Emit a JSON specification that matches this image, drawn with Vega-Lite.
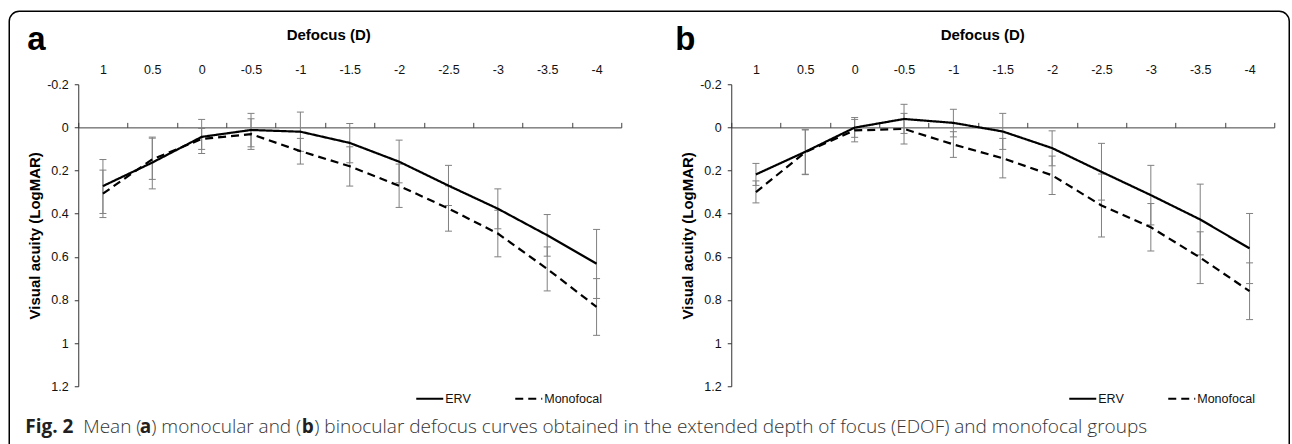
{
  "$schema": "https://vega.github.io/schema/vega-lite/v6.json",
  "background": "white",
  "padding": {"left": 8.25, "top": 10.25, "right": 0, "bottom": 0},
  "autosize": {"type": "pad"},
  "config": {
    "view": {"stroke": null},
    "font": "Liberation Sans",
    "axis": {"labelFont": "Liberation Sans", "labelFontSize": 12.5, "labelColor": "#111", "titleFont": "Liberation Sans", "titleColor": "#000", "grid": false, "domainColor": "#404040", "tickColor": "#404040", "domainWidth": 1, "tickWidth": 1},
    "legend": {"labelFont": "Liberation Sans"}
  },
  "datasets": {
    "a": [
      {"D": 1, "g": "ERV", "m": 0.272, "lo": 0.149, "hi": 0.399},
      {"D": 0.5, "g": "ERV", "m": 0.163, "lo": 0.045, "hi": 0.285},
      {"D": 0, "g": "ERV", "m": 0.044, "lo": -0.037, "hi": 0.121},
      {"D": -0.5, "g": "ERV", "m": 0.012, "lo": -0.065, "hi": 0.09},
      {"D": -1, "g": "ERV", "m": 0.02, "lo": -0.071, "hi": 0.111},
      {"D": -1.5, "g": "ERV", "m": 0.072, "lo": -0.018, "hi": 0.164},
      {"D": -2, "g": "ERV", "m": 0.159, "lo": 0.059, "hi": 0.257},
      {"D": -2.5, "g": "ERV", "m": 0.27, "lo": 0.176, "hi": 0.362},
      {"D": -3, "g": "ERV", "m": 0.377, "lo": 0.285, "hi": 0.47},
      {"D": -3.5, "g": "ERV", "m": 0.5, "lo": 0.404, "hi": 0.597},
      {"D": -4, "g": "ERV", "m": 0.632, "lo": 0.473, "hi": 0.793},
      {"D": 1, "g": "Monofocal", "m": 0.307, "lo": 0.198, "hi": 0.418},
      {"D": 0.5, "g": "Monofocal", "m": 0.148, "lo": 0.05, "hi": 0.241},
      {"D": 0, "g": "Monofocal", "m": 0.054, "lo": 0.005, "hi": 0.102},
      {"D": -0.5, "g": "Monofocal", "m": 0.031, "lo": -0.04, "hi": 0.102},
      {"D": -1, "g": "Monofocal", "m": 0.11, "lo": 0.051, "hi": 0.17},
      {"D": -1.5, "g": "Monofocal", "m": 0.18, "lo": 0.09, "hi": 0.272},
      {"D": -2, "g": "Monofocal", "m": 0.271, "lo": 0.17, "hi": 0.371},
      {"D": -2.5, "g": "Monofocal", "m": 0.376, "lo": 0.271, "hi": 0.481},
      {"D": -3, "g": "Monofocal", "m": 0.492, "lo": 0.384, "hi": 0.6},
      {"D": -3.5, "g": "Monofocal", "m": 0.656, "lo": 0.554, "hi": 0.758},
      {"D": -4, "g": "Monofocal", "m": 0.832, "lo": 0.701, "hi": 0.964}
    ],
    "b": [
      {"D": 1, "g": "ERV", "m": 0.218, "lo": 0.167, "hi": 0.269},
      {"D": 0.5, "g": "ERV", "m": 0.113, "lo": 0.009, "hi": 0.217},
      {"D": 0, "g": "ERV", "m": 0.001, "lo": -0.046, "hi": 0.046},
      {"D": -0.5, "g": "ERV", "m": -0.039, "lo": -0.107, "hi": 0.028},
      {"D": -1, "g": "ERV", "m": -0.021, "lo": -0.084, "hi": 0.044},
      {"D": -1.5, "g": "ERV", "m": 0.019, "lo": -0.065, "hi": 0.102},
      {"D": -2, "g": "ERV", "m": 0.096, "lo": 0.016, "hi": 0.178},
      {"D": -2.5, "g": "ERV", "m": 0.206, "lo": 0.074, "hi": 0.337},
      {"D": -3, "g": "ERV", "m": 0.314, "lo": 0.176, "hi": 0.452},
      {"D": -3.5, "g": "ERV", "m": 0.427, "lo": 0.263, "hi": 0.591},
      {"D": -4, "g": "ERV", "m": 0.561, "lo": 0.399, "hi": 0.724},
      {"D": 1, "g": "Monofocal", "m": 0.3, "lo": 0.248, "hi": 0.35},
      {"D": 0.5, "g": "Monofocal", "m": 0.115, "lo": 0.012, "hi": 0.219},
      {"D": 0, "g": "Monofocal", "m": 0.014, "lo": -0.037, "hi": 0.067},
      {"D": -0.5, "g": "Monofocal", "m": 0.007, "lo": -0.065, "hi": 0.077},
      {"D": -1, "g": "Monofocal", "m": 0.079, "lo": 0.02, "hi": 0.139},
      {"D": -1.5, "g": "Monofocal", "m": 0.143, "lo": 0.051, "hi": 0.234},
      {"D": -2, "g": "Monofocal", "m": 0.222, "lo": 0.133, "hi": 0.311},
      {"D": -2.5, "g": "Monofocal", "m": 0.362, "lo": 0.216, "hi": 0.508},
      {"D": -3, "g": "Monofocal", "m": 0.463, "lo": 0.353, "hi": 0.573},
      {"D": -3.5, "g": "Monofocal", "m": 0.604, "lo": 0.484, "hi": 0.724},
      {"D": -4, "g": "Monofocal", "m": 0.759, "lo": 0.628, "hi": 0.891}
    ]
  },
  "bounds": "flush",
  "spacing": 110,
  "resolve": {"scale": {"x": "independent", "y": "independent", "strokeDash": "independent"}, "legend": {"strokeDash": "independent"}},
  "hconcat": [
    {
      "width": 543,
      "height": 302,
      "data": {"name": "a"},
      "resolve": {"axis": {"x": "independent", "y": "independent"}},
      "layer": [
        {
          "data": {"values": [{}]},
          "mark": {"type": "rect", "x": -69, "x2": 1211, "y": -73, "y2": 400, "cornerRadius": 10, "fill": null, "stroke": "#000", "strokeWidth": 1.5}
        },
        {
          "mark": {"type": "rule", "color": "#808080", "strokeWidth": 1},
          "encoding": {
            "x": {"field": "D", "type": "quantitative", "scale": {"domain": [1.25, -4.25], "nice": false, "zero": false},
              "axis": {"orient": "top", "offset": -43.14, "values": [1.25, 0.75, 0.25, -0.25, -0.75, -1.25, -1.75, -2.25, -2.75, -3.25, -3.75, -4.25], "labels": false, "ticks": true, "tickSize": 5, "domain": true, "title": null, "grid": false}},
            "y": {"field": "lo", "type": "quantitative", "scale": {"domain": [-0.2, 1.2], "reverse": true, "nice": false, "zero": false}, "axis": null},
            "y2": {"field": "hi"}
          }
        },
        {
          "mark": {"type": "tick", "orient": "horizontal", "size": 7, "thickness": 1, "color": "#808080", "opacity": 1},
          "encoding": {
            "x": {"field": "D", "type": "quantitative", "axis": null},
            "y": {"field": "lo", "type": "quantitative", "axis": null}
          }
        },
        {
          "mark": {"type": "tick", "orient": "horizontal", "size": 7, "thickness": 1, "color": "#808080", "opacity": 1},
          "encoding": {
            "x": {"field": "D", "type": "quantitative", "axis": null},
            "y": {"field": "hi", "type": "quantitative", "axis": null}
          }
        },
        {
          "mark": {"type": "line", "color": "#000", "strokeWidth": 2.2, "strokeCap": "butt"},
          "encoding": {
            "x": {"field": "D", "type": "quantitative",
              "axis": {"orient": "top", "values": [1, 0.5, 0, -0.5, -1, -1.5, -2, -2.5, -3, -3.5, -4], "format": "~g", "labelExpr": "replace(datum.label, '−', '-')", "domain": false, "ticks": false, "labelPadding": 11, "labelBaseline": "alphabetic", "title": "Defocus (D)", "titleFontSize": 15, "titleFontWeight": "bold", "titleX": 250, "titleY": -45, "titleAlign": "center", "titleBaseline": "alphabetic"}},
            "y": {"field": "m", "type": "quantitative",
              "axis": {"orient": "left", "zindex": 1, "values": [-0.2, 0, 0.2, 0.4, 0.6, 0.8, 1, 1.2], "format": "~g", "labelExpr": "replace(datum.label, '−', '-')", "domain": true, "domainColor": "#333333", "domainWidth": 1, "ticks": true, "tickColor": "#333333", "tickSize": 4, "labelPadding": 6, "grid": false, "title": "Visual acuity (LogMAR)", "titleFontSize": 15, "titleFontWeight": "bold", "titleX": -44, "titleY": 151, "titleAlign": "center", "titleBaseline": "middle", "titleAngle": -90}},
            "strokeDash": {"field": "g", "type": "nominal", "scale": {"domain": ["ERV", "Monofocal"], "range": [[1, 0], [8, 5]]},
              "legend": {"orient": "none", "legendX": 337, "legendY": 300, "direction": "horizontal", "title": null, "symbolType": "stroke", "symbolSize": 729, "symbolStrokeWidth": 2, "symbolStrokeColor": "#000", "labelOffset": 1, "columnPadding": 40, "labelFontSize": 12.5, "labelColor": "#111", "padding": 0}}
          }
        },
        {
          "data": {"values": [{}]},
          "mark": {"type": "text", "text": "a", "x": -51, "y": -34, "align": "left", "baseline": "alphabetic", "font": "Liberation Sans", "fontWeight": "bold", "fontSize": 33, "color": "#000"}
        },
        {
          "data": {"values": [{}]},
          "mark": {"type": "text", "text": "Fig. 2", "x": -53, "y": 349, "align": "left", "baseline": "alphabetic", "font": "Open Sans", "fontWeight": "bold", "fontSize": 19, "color": "#231f20"}
        },
        {
          "data": {"values": [{}]},
          "mark": {"type": "text", "text": "Mean (", "x": 5, "y": 349, "align": "left", "baseline": "alphabetic", "font": "Open Sans", "fontWeight": 300, "fontSize": 19, "color": "#333"}
        },
        {
          "data": {"values": [{}]},
          "mark": {"type": "text", "text": "a", "x": 61.5, "y": 349, "align": "left", "baseline": "alphabetic", "font": "Open Sans", "fontWeight": "bold", "fontSize": 19, "color": "#231f20"}
        },
        {
          "data": {"values": [{}]},
          "mark": {"type": "text", "text": ") monocular and (", "x": 73, "y": 349, "align": "left", "baseline": "alphabetic", "font": "Open Sans", "fontWeight": 300, "fontSize": 19, "color": "#333"}
        },
        {
          "data": {"values": [{}]},
          "mark": {"type": "text", "text": "b", "x": 223.5, "y": 349, "align": "left", "baseline": "alphabetic", "font": "Open Sans", "fontWeight": "bold", "fontSize": 19, "color": "#231f20"}
        },
        {
          "data": {"values": [{}]},
          "mark": {"type": "text", "text": ") binocular defocus curves obtained in the extended depth of focus (EDOF) and monofocal groups", "x": 236, "y": 349, "align": "left", "baseline": "alphabetic", "font": "Open Sans", "fontWeight": 300, "fontSize": 19, "color": "#333"}
        }
      ]
    },
    {
      "width": 543,
      "height": 302,
      "data": {"name": "b"},
      "resolve": {"axis": {"x": "independent", "y": "independent"}},
      "layer": [
        {
          "mark": {"type": "rule", "color": "#808080", "strokeWidth": 1},
          "encoding": {
            "x": {"field": "D", "type": "quantitative", "scale": {"domain": [1.25, -4.25], "nice": false, "zero": false},
              "axis": {"orient": "top", "offset": -43.14, "values": [1.25, 0.75, 0.25, -0.25, -0.75, -1.25, -1.75, -2.25, -2.75, -3.25, -3.75, -4.25], "labels": false, "ticks": true, "tickSize": 5, "domain": true, "title": null, "grid": false}},
            "y": {"field": "lo", "type": "quantitative", "scale": {"domain": [-0.2, 1.2], "reverse": true, "nice": false, "zero": false}, "axis": null},
            "y2": {"field": "hi"}
          }
        },
        {
          "mark": {"type": "tick", "orient": "horizontal", "size": 7, "thickness": 1, "color": "#808080", "opacity": 1},
          "encoding": {
            "x": {"field": "D", "type": "quantitative", "axis": null},
            "y": {"field": "lo", "type": "quantitative", "axis": null}
          }
        },
        {
          "mark": {"type": "tick", "orient": "horizontal", "size": 7, "thickness": 1, "color": "#808080", "opacity": 1},
          "encoding": {
            "x": {"field": "D", "type": "quantitative", "axis": null},
            "y": {"field": "hi", "type": "quantitative", "axis": null}
          }
        },
        {
          "mark": {"type": "line", "color": "#000", "strokeWidth": 2.2, "strokeCap": "butt"},
          "encoding": {
            "x": {"field": "D", "type": "quantitative",
              "axis": {"orient": "top", "values": [1, 0.5, 0, -0.5, -1, -1.5, -2, -2.5, -3, -3.5, -4], "format": "~g", "labelExpr": "replace(datum.label, '−', '-')", "domain": false, "ticks": false, "labelPadding": 11, "labelBaseline": "alphabetic", "title": "Defocus (D)", "titleFontSize": 15, "titleFontWeight": "bold", "titleX": 251, "titleY": -45, "titleAlign": "center", "titleBaseline": "alphabetic"}},
            "y": {"field": "m", "type": "quantitative",
              "axis": {"orient": "left", "zindex": 1, "values": [-0.2, 0, 0.2, 0.4, 0.6, 0.8, 1, 1.2], "format": "~g", "labelExpr": "replace(datum.label, '−', '-')", "domain": true, "domainColor": "#333333", "domainWidth": 1, "ticks": true, "tickColor": "#333333", "tickSize": 4, "labelPadding": 6, "grid": false, "title": "Visual acuity (LogMAR)", "titleFontSize": 15, "titleFontWeight": "bold", "titleX": -44, "titleY": 151, "titleAlign": "center", "titleBaseline": "middle", "titleAngle": -90}},
            "strokeDash": {"field": "g", "type": "nominal", "scale": {"domain": ["ERV", "Monofocal"], "range": [[1, 0], [8, 5]]},
              "legend": {"orient": "none", "legendX": 337, "legendY": 300, "direction": "horizontal", "title": null, "symbolType": "stroke", "symbolSize": 729, "symbolStrokeWidth": 2, "symbolStrokeColor": "#000", "labelOffset": 1, "columnPadding": 40, "labelFontSize": 12.5, "labelColor": "#111", "padding": 0}}
          }
        },
        {
          "data": {"values": [{}]},
          "mark": {"type": "text", "text": "b", "x": -56, "y": -34, "align": "left", "baseline": "alphabetic", "font": "Liberation Sans", "fontWeight": "bold", "fontSize": 33, "color": "#000"}
        }
      ]
    }
  ]
}
